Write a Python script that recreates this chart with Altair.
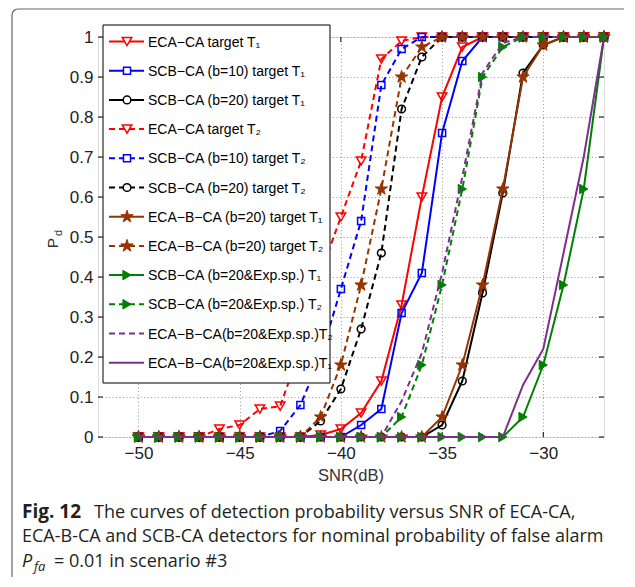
import altair as alt
import pandas as pd

# ---------------- data ----------------
snr = list(range(-50, -26))  # -50 ... -27 dB

eca_ca_t1 = [0, 0, 0, 0, 0, 0, 0, 0, 0, 0.005, 0.02, 0.06, 0.14, 0.33, 0.60, 0.85, 0.975, 1, 1, 1, 1, 1, 1, 1]
scb10_t1 = [0, 0, 0, 0, 0, 0, 0, 0, 0, 0, 0, 0.03, 0.07, 0.31, 0.41, 0.76, 0.94, 1, 1, 1, 1, 1, 1, 1]
scb20_t1 = [0] * 15 + [0.03, 0.14, 0.36, 0.61, 0.91, 0.98, 1, 1, 1]
eca_ca_t2 = [0, 0, 0, 0, 0.02, 0.03, 0.07, 0.077, 0.22, 0.41, 0.55, 0.69, 0.945, 0.99] + [1] * 10
scb10_t2 = [0] * 7 + [0.015, 0.08, 0.20, 0.37, 0.54, 0.88, 0.97] + [1] * 10
scb20_t2 = [0] * 9 + [0.04, 0.12, 0.27, 0.46, 0.82, 0.95] + [1] * 9
ecab_t1 = [0] * 15 + [0.05, 0.18, 0.38, 0.62, 0.90, 0.98, 1, 1, 1]
ecab_t2 = [0] * 9 + [0.05, 0.18, 0.38, 0.62, 0.90, 0.975] + [1] * 9
scbexp_t1 = [0] * 19 + [0.05, 0.18, 0.38, 0.62, 1]
scbexp_t2 = [0] * 13 + [0.05, 0.18, 0.38, 0.62, 0.90, 0.975] + [1] * 5
ecabexp_t2 = [0] * 13 + [0.09, 0.21, 0.41, 0.65, 0.91, 0.985] + [1] * 5
ecabexp_t1 = [0] * 19 + [0.13, 0.22, 0.46, 0.70, 1]

labels = [
    "ECA\u2212CA target T\u2081",
    "SCB\u2212CA (b=10) target T\u2081",
    "SCB\u2212CA (b=20) target T\u2081",
    "ECA\u2212CA target T\u2082",
    "SCB\u2212CA (b=10) target T\u2082",
    "SCB\u2212CA (b=20) target T\u2082",
    "ECA\u2212B\u2212CA (b=20) target T\u2081",
    "ECA\u2212B\u2212CA (b=20) target T\u2082",
    "SCB\u2212CA (b=20&Exp.sp.) T\u2081",
    "SCB\u2212CA (b=20&Exp.sp.) T\u2082",
    "ECA\u2212B\u2212CA(b=20&Exp.sp.)T\u2082",
    "ECA\u2212B\u2212CA(b=20&Exp.sp.)T\u2081",
]
series_values = [eca_ca_t1, scb10_t1, scb20_t1, eca_ca_t2, scb10_t2, scb20_t2,
                 ecab_t1, ecab_t2, scbexp_t1, scbexp_t2, ecabexp_t2, ecabexp_t1]

x_ticks = [-50, -45, -40, -35, -30]
y_ticks = [0, 0.1, 0.2, 0.3, 0.4, 0.5, 0.6, 0.7, 0.8, 0.9, 1]

caption_line1_bold = "Fig. 12"
caption_line1 = "The curves of detection probability versus SNR of ECA-CA,"
caption_line2 = "ECA-B-CA and SCB-CA detectors for nominal probability of false alarm"
caption_line3 = "= 0.01 in scenario #3"

# ---------------- styles ----------------
RED, BLUE, BLACK, BROWN, GREEN, PURPLE = "#ff0000", "#0000ff", "#000000", "#993300", "#008000", "#7e2f8e"
DASH = [6, 4]
STAR = ("M0,-1L0.2245,-0.309L0.951,-0.309L0.3633,0.118L0.5878,0.809L0,0.382"
        "L-0.5878,0.809L-0.3633,0.118L-0.951,-0.309L-0.2245,-0.309Z")
styles = [
    # color, dashed, shape, filled, size
    (RED, False, "triangle-down", False, 90),
    (BLUE, False, "square", False, 50),
    (BLACK, False, "circle", False, 60),
    (RED, True, "triangle-down", False, 90),
    (BLUE, True, "square", False, 50),
    (BLACK, True, "circle", False, 60),
    (BROWN, False, STAR, True, 170),
    (BROWN, True, STAR, True, 170),
    (GREEN, False, "triangle-right", True, 90),
    (GREEN, True, "triangle-right", True, 90),
    (PURPLE, True, None, False, 0),
    (PURPLE, False, None, False, 0),
]

W, H = 506, 400
FONT = "Liberation Sans"

xscale = alt.Scale(domain=[-52, -27], nice=False, zero=False)
yscale = alt.Scale(domain=[0, 1], nice=False, zero=False)
xaxis = alt.Axis(values=x_ticks, format="d", title=None, grid=True, ticks=False, domain=False, orient="bottom",
                 labelPadding=8, labelFontSize=17, labelFont=FONT, labelColor="#222",
                 gridColor="#9a9a9a", gridDash=[1, 2.5], labelFlush=False)
yaxis = alt.Axis(values=y_ticks, format=".1~f", title=None, grid=True, ticks=False, domain=False, orient="left",
                 labelPadding=5, labelFontSize=17, labelFont=FONT, labelColor="#222",
                 gridColor="#9a9a9a", gridDash=[1, 2.5], labelFlush=False)


def X(field):
    return alt.X(field, type="quantitative", scale=xscale, axis=xaxis)


def Y(field):
    return alt.Y(field, type="quantitative", scale=yscale, axis=yaxis)


layers = []

# inward ticks (MATLAB style)
xt = pd.DataFrame({"v": x_ticks})
yt = pd.DataFrame({"v": y_ticks})
tick_style = dict(color="black", strokeWidth=1)
layers.append(alt.Chart(xt).mark_rule(**tick_style).encode(x=X("v"), y=alt.value(H), y2=alt.value(H - 5)))
layers.append(alt.Chart(xt).mark_rule(**tick_style).encode(x=X("v"), y=alt.value(0), y2=alt.value(5)))
layers.append(alt.Chart(yt).mark_rule(**tick_style).encode(y=Y("v"), x=alt.value(0), x2=alt.value(5)))
layers.append(alt.Chart(yt).mark_rule(**tick_style).encode(y=Y("v"), x=alt.value(W), x2=alt.value(W - 5)))

# data series
for lab, vals, (col, dashed, shape, filled, size) in zip(labels, series_values, styles):
    df = pd.DataFrame({"snr": snr, "pd": vals})
    lkw = dict(color=col, strokeWidth=2)
    if dashed:
        lkw["strokeDash"] = DASH
    layers.append(alt.Chart(df).mark_line(**lkw).encode(x=X("snr"), y=Y("pd")))
    if shape:
        pkw = dict(shape=shape, size=size, stroke=col, strokeWidth=1.5, opacity=1)
        if filled:
            pkw.update(filled=True, fill=col, strokeWidth=1)
        else:
            pkw.update(filled=False, fill="transparent")
        layers.append(alt.Chart(df).mark_point(**pkw).encode(x=X("snr"), y=Y("pd")))

# legend box
one = pd.DataFrame({"a": [0]})
layers.append(alt.Chart(one).mark_rect(fill="white", stroke="black", strokeWidth=1).encode(
    x=alt.value(5), x2=alt.value(232), y=alt.value(-12), y2=alt.value(346)))
for i, (lab, (col, dashed, shape, filled, size)) in enumerate(zip(labels, styles)):
    yy = 4.5 + 29.2 * i
    ld = pd.DataFrame({"label": [lab]})
    rkw = dict(color=col, strokeWidth=2)
    if dashed:
        rkw["strokeDash"] = DASH
    layers.append(alt.Chart(ld).mark_rule(**rkw).encode(
        x=alt.value(11), x2=alt.value(46), y=alt.value(yy)))
    if shape:
        pkw = dict(shape=shape, size=size, stroke=col, strokeWidth=1.5, opacity=1)
        if filled:
            pkw.update(filled=True, fill=col, strokeWidth=1)
        else:
            pkw.update(filled=False, fill="white")
        layers.append(alt.Chart(ld).mark_point(**pkw).encode(x=alt.value(29), y=alt.value(yy)))
    layers.append(alt.Chart(ld).mark_text(align="left", baseline="middle", font=FONT, fontSize=14,
                                          color="black").encode(
        x=alt.value(50), y=alt.value(yy + 1), text="label:N"))

# axis titles
layers.append(alt.Chart(pd.DataFrame({"t": ["SNR(dB)"]})).mark_text(
    align="center", baseline="alphabetic", font=FONT, fontSize=16.5, color="#333").encode(
    x=alt.value(W / 2), y=alt.value(444), text="t:N"))
layers.append(alt.Chart(pd.DataFrame({"t": ["P"]})).mark_text(
    align="center", baseline="alphabetic", font=FONT, fontSize=15.5, color="#333", angle=270).encode(
    x=alt.value(-40), y=alt.value(206), text="t:N"))
layers.append(alt.Chart(pd.DataFrame({"t": ["d"]})).mark_text(
    align="center", baseline="alphabetic", font=FONT, fontSize=11, color="#333", angle=270).encode(
    x=alt.value(-36), y=alt.value(196), text="t:N"))

# caption
CAP_FONT = "Open Sans"
CAP_COL = "#231f20"
CS = 18
CX = -76
cap = [
    (caption_line1_bold, CX, 481, "bold", "normal", 19),
    (caption_line1, -4, 481, "normal", "normal", CS),
    (caption_line2, CX, 505, "normal", "normal", CS),
    ("P", CX, 530, "normal", "italic", CS),
    ("fa", CX + 12, 534, "normal", "italic", 13),
    (caption_line3, CX + 32, 530, "normal", "normal", CS),
]
for t, cx, cy, fw, fs, sz in cap:
    layers.append(alt.Chart(pd.DataFrame({"t": [t]})).mark_text(
        align="left", baseline="alphabetic", font=CAP_FONT, fontSize=sz, fontWeight=fw, fontStyle=fs,
        color=CAP_COL).encode(x=alt.value(cx), y=alt.value(cy), text="t:N"))

# page frame (left and top lines with a rounded corner)
FR = "#666"
layers.append(alt.Chart(one).mark_rule(color=FR, strokeWidth=1.2).encode(
    x=alt.value(-86), y=alt.value(-22), y2=alt.value(540)))
layers.append(alt.Chart(one).mark_rule(color=FR, strokeWidth=1.2).encode(
    x=alt.value(-80), x2=alt.value(W + 20), y=alt.value(-28)))
layers.append(alt.Chart(one).mark_arc(theta=4.712, theta2=6.2832, radius=6, radius2=6,
                                      stroke=FR, strokeWidth=1.2, fillOpacity=0).encode(
    x=alt.value(-80), y=alt.value(-22)))

chart = alt.layer(*layers).properties(
    width=W, height=H,
    padding={"left": 90, "top": 29, "right": 20, "bottom": 140},
    autosize=alt.AutoSizeParams(type="none"),
).configure_view(stroke="black", strokeWidth=1.2).configure(background="white")

chart.save("out.html", embed_options={"renderer": "svg", "actions": False})
